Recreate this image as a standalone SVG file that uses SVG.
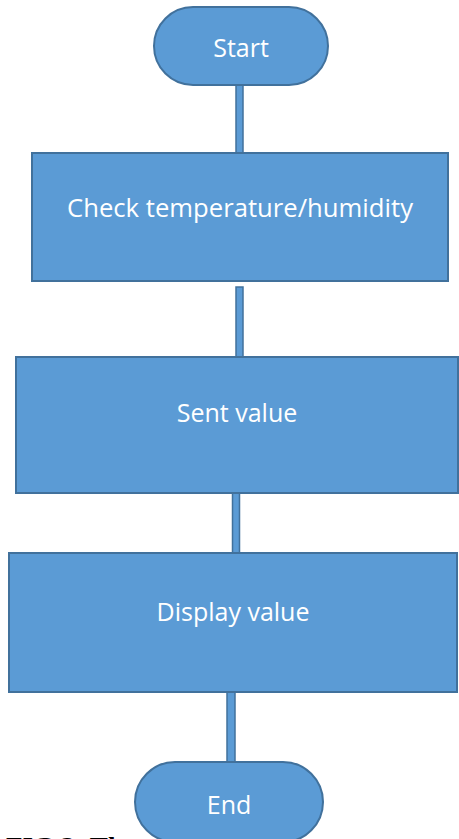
<svg xmlns="http://www.w3.org/2000/svg" width="459" height="839" viewBox="0 0 459 839">
<style>
.shape{fill:#5B9BD5;stroke:#41719C;stroke-width:2}
.conn{fill:#5B9BD5;stroke:#41719C;stroke-width:1.5}
.lbl{fill:#FFFFFF;font-family:"Open Sans","Noto Sans",sans-serif;font-size:25px;text-anchor:middle;dominant-baseline:central}
.cap{fill:#000000;font-family:"Liberation Serif",serif;font-size:24px;font-weight:bold}
</style>
<rect width="459" height="839" fill="#FFFFFF"/>
<g id="caption">
<text class="cap" x="6" y="853" textLength="117" lengthAdjust="spacingAndGlyphs">FIG 2: Th</text>
</g>
<g id="connectors">
<rect class="conn" x="236" y="85" width="7" height="68"/>
<rect class="conn" x="236" y="287" width="7" height="70"/>
<rect class="conn" x="232.5" y="493" width="7" height="60"/>
<rect class="conn" x="227" y="692" width="8" height="70"/>
</g>
<g id="start">
<rect class="shape" x="154" y="7" width="174" height="78" rx="39" ry="39"/>
<text class="lbl" x="241" y="47">Start</text>
</g>
<g id="check">
<rect class="shape" x="32" y="153" width="416" height="128"/>
<text class="lbl" x="240" y="207" textLength="346" lengthAdjust="spacingAndGlyphs">Check temperature/humidity</text>
</g>
<g id="sent">
<rect class="shape" x="16" y="357" width="442" height="136"/>
<text class="lbl" x="237" y="412">Sent value</text>
</g>
<g id="display">
<rect class="shape" x="9" y="553" width="448" height="139"/>
<text class="lbl" x="233" y="611">Display value</text>
</g>
<g id="end">
<rect class="shape" x="135" y="762" width="188" height="80" rx="40" ry="40"/>
<text class="lbl" x="229" y="804">End</text>
</g>
</svg>
